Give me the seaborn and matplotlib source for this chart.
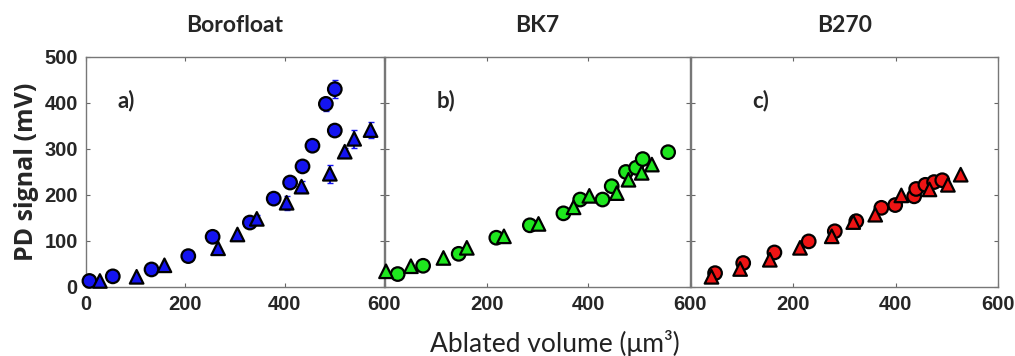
import numpy as np
import pandas as pd
import matplotlib.pyplot as plt
import seaborn as sns

# data (volume in um^3, PD signal in mV)

titles = ['Borofloat', 'BK7', 'B270']
tags = ['a)', 'b)', 'c)']
colors = ['#1414f0', '#1ee61e', '#ee1414']

a_circ_x = [7, 54, 132, 206, 255, 330, 378, 411, 436, 456, 483, 501, 501]
a_circ_y = [13, 23, 38, 67, 109, 140, 192, 227, 262, 307, 398, 430, 340]
a_circ_err = [0, 0, 0, 0, 0, 0, 0, 0, 0, 8, 15, 20, 10]
a_tri_x = [28, 102, 158, 266, 305, 344, 404, 434, 491, 521, 540, 573]
a_tri_y = [13, 22, 47, 84, 114, 148, 183, 218, 246, 294, 322, 341]
a_tri_err = [0, 0, 0, 0, 0, 8, 15, 12, 20, 8, 20, 18]

b_circ_x = [25, 75, 145, 219, 285, 351, 384, 428, 446, 474, 494, 507, 557]
b_circ_y = [28, 46, 72, 107, 134, 160, 190, 190, 219, 250, 259, 278, 293]
b_tri_x = [2, 51, 115, 161, 234, 302, 371, 402, 456, 479, 505, 525]
b_tri_y = [34, 45, 63, 85, 110, 137, 173, 198, 204, 233, 248, 266]

c_circ_x = [47, 102, 163, 230, 281, 323, 372, 399, 436, 440, 458, 475, 491]
c_circ_y = [30, 52, 75, 99, 121, 143, 172, 178, 197, 213, 222, 228, 232]
c_tri_x = [40, 96, 154, 213, 275, 317, 360, 411, 466, 502, 527]
c_tri_y = [22, 39, 59, 85, 110, 141, 157, 199, 212, 222, 244]

xticks = [0, 200, 400, 600]
yticks = [0, 100, 200, 300, 400, 500]

sns.set_style('white')
plt.rcParams['font.family'] = ['Liberation Sans', 'DejaVu Sans']
label_font = ['Lato', 'DejaVu Sans']

fig = plt.figure(figsize=(10.15, 3.56), dpi=100)
lefts = [0.0847, 0.3793, 0.6808]
widths = [0.2936, 0.3005, 0.3025]
tag_x = [0.107, 0.17, 0.20]

panels = [
    (a_circ_x, a_circ_y, a_tri_x, a_tri_y),
    (b_circ_x, b_circ_y, b_tri_x, b_tri_y),
    (c_circ_x, c_circ_y, c_tri_x, c_tri_y),
]

for i, (cx, cy, tx, ty) in enumerate(panels):
    ax = fig.add_axes([lefts[i], 0.194, widths[i], 0.646])
    df = pd.DataFrame({
        'volume': cx + tx,
        'signal': cy + ty,
        'shape': ['circle'] * len(cx) + ['triangle'] * len(tx),
    })
    if i == 0:
        ax.errorbar(a_circ_x, a_circ_y, yerr=a_circ_err, fmt='none',
                    ecolor=colors[0], elinewidth=1.5, capsize=2.5, zorder=1)
        ax.errorbar(a_tri_x, a_tri_y, yerr=a_tri_err, fmt='none',
                    ecolor=colors[0], elinewidth=1.5, capsize=2.5, zorder=1)
    sns.scatterplot(data=df, x='volume', y='signal', style='shape',
                    markers={'circle': 'o', 'triangle': '^'},
                    color=colors[i], edgecolor='black', linewidth=1.6,
                    s=95, legend=False, ax=ax, zorder=3, clip_on=False)

    ax.set_xlim(0, 600)
    ax.set_ylim(0, 500)
    ax.set_xticks(xticks)
    ax.set_yticks(yticks)
    ax.set_xlabel('')
    ax.set_ylabel('')
    ax.tick_params(direction='in', length=3, top=True, right=True,
                   bottom=True, left=True, color='#666666', pad=6)
    for sp in ax.spines.values():
        sp.set_color('#777777')
        sp.set_linewidth(1.0)
    if i == 0:
        ax.set_xticklabels([str(t) for t in xticks], fontweight='bold', fontsize=14.5)
        ax.set_yticklabels([str(t) for t in yticks], fontweight='bold', fontsize=14.5)
        ax.set_ylabel('PD signal (mV)', fontweight='bold', fontsize=18,
                      family=['Open Sans', 'DejaVu Sans'], labelpad=4)
    else:
        ax.set_xticklabels([''] + [str(t) for t in xticks[1:]], fontweight='bold', fontsize=14.5)
        ax.set_yticklabels([])
    ax.set_title(titles[i], fontweight='bold', fontsize=16.5, pad=18,
                 family=label_font)
    ax.text(tag_x[i], 0.81, tags[i], transform=ax.transAxes, va='center',
            fontsize=16, fontweight='bold', family=label_font)

fig.text(0.547, 0.035, 'Ablated volume (μm³)', ha='center', va='center',
         fontsize=19, family=label_font, color='#222222')

fig.savefig('out.png', dpi=100)
